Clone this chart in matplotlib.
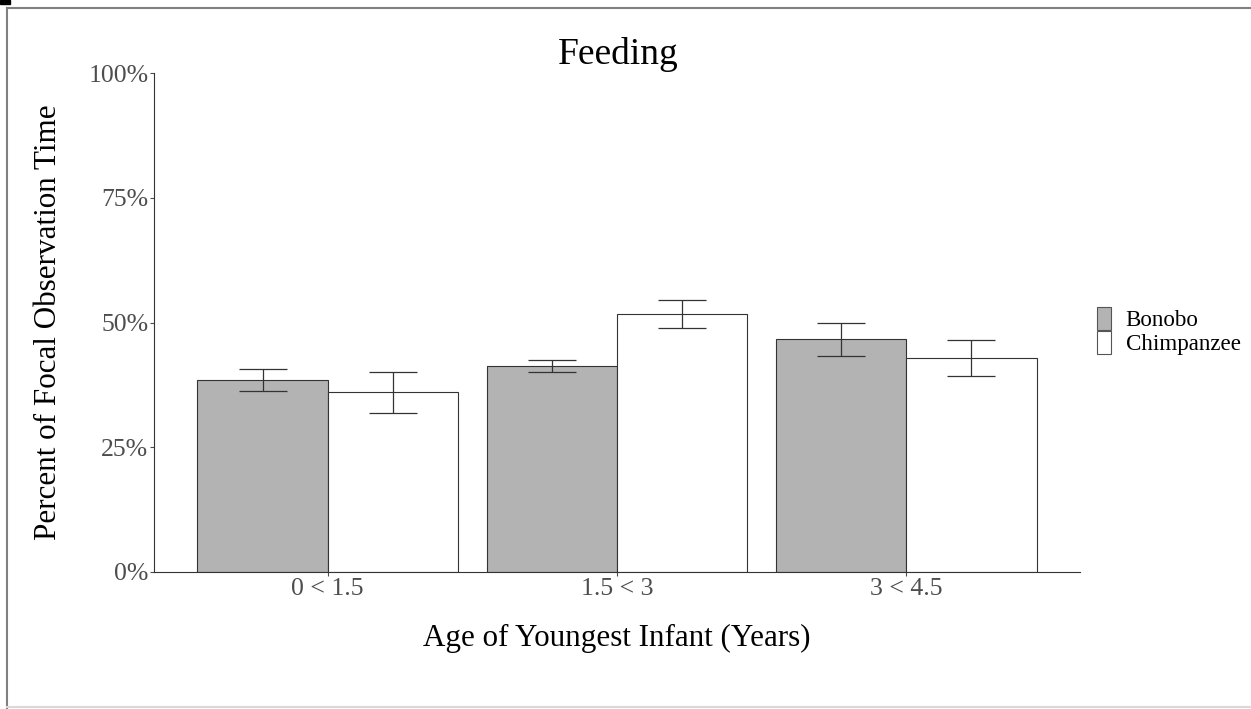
import numpy as np
import matplotlib
matplotlib.use('Agg')
import matplotlib.pyplot as plt
from matplotlib.patches import Patch, Rectangle
from matplotlib.lines import Line2D

groups = ['0 < 1.5', '1.5 < 3', '3 < 4.5']
species = ['Bonobo', 'Chimpanzee']
bonobo = [38.5, 41.3, 46.6]
bonobo_lo = [36.2, 40.1, 43.2]
bonobo_hi = [40.7, 42.5, 50.0]
chimp = [36.0, 51.8, 42.9]
chimp_lo = [31.9, 48.8, 39.2]
chimp_hi = [40.0, 54.6, 46.5]
colors = ['#B3B3B3', '#FFFFFF']

plt.rcParams['font.family'] = ['Liberation Serif', 'DejaVu Serif']

W, H = 1251, 709
fig = plt.figure(figsize=(W / 100, H / 100), dpi=100)
ax = fig.add_axes([154 / W, (H - 572) / H, (1080 - 154) / W, (572 - 73) / H])

x = np.arange(1, len(groups) + 1)
w = 0.45
edge = '#333333'
series = [(bonobo, bonobo_lo, bonobo_hi), (chimp, chimp_lo, chimp_hi)]
for i, (vals, lo, hi) in enumerate(series):
    xs = x + (i - 0.5) * w
    ax.bar(xs, vals, width=w, color=colors[i], edgecolor=edge, linewidth=0.8, zorder=2)
    vals = np.array(vals)
    err = [vals - np.array(lo), np.array(hi) - vals]
    ax.errorbar(xs, vals, yerr=err, fmt='none', ecolor=edge, elinewidth=0.9,
                capsize=17.5, capthick=0.9, zorder=3)

ax.set_xlim(0.4, 3.6)
ax.set_ylim(0, 100)
ax.set_xticks(x)
ax.set_xticklabels(groups)
ax.set_yticks([0, 25, 50, 75, 100])
ax.set_yticklabels(['0%', '25%', '50%', '75%', '100%'])
ax.tick_params(colors='#4D4D4D', labelsize=18.5, length=3, width=0.8, pad=1)
for s in ['top', 'right']:
    ax.spines[s].set_visible(False)
for s in ['left', 'bottom']:
    ax.spines[s].set_color('#333333')
    ax.spines[s].set_linewidth(0.8)

fig.text(618 / W, 1 - 54 / H, 'Feeding', ha='center', va='center', fontsize=27)
fig.text(617 / W, 1 - 638 / H, 'Age of Youngest Infant (Years)', ha='center', va='center', fontsize=22.3)
fig.text(49 / W, 1 - 322 / H, 'Percent of Focal Observation Time', ha='center', va='center',
         rotation=90, fontsize=22.4)

handles = [Patch(facecolor=colors[i], edgecolor='#555555', linewidth=0.8) for i in range(2)]
fig.legend(handles, species, loc='center left', bbox_to_anchor=(1097 / W, 1 - 331 / H),
           frameon=False, fontsize=16.6, handlelength=0.62, handleheight=1.15,
           handletextpad=0.62, labelspacing=0.0, borderaxespad=0, borderpad=0)

# screenshot frame
fig.add_artist(Line2D([7 / W, 7 / W], [0, 1 - 8 / H], transform=fig.transFigure, color='#808080', lw=1.5))
fig.add_artist(Line2D([7 / W, 1], [1 - 8 / H, 1 - 8 / H], transform=fig.transFigure, color='#808080', lw=1.5))
fig.add_artist(Line2D([7 / W, 1], [2 / H, 2 / H], transform=fig.transFigure, color='#D9D9D9', lw=1.5))
fig.add_artist(Rectangle((0, 1 - 4 / H), 10 / W, 4 / H, transform=fig.transFigure, color='black'))

fig.savefig('out.png', dpi=100)
